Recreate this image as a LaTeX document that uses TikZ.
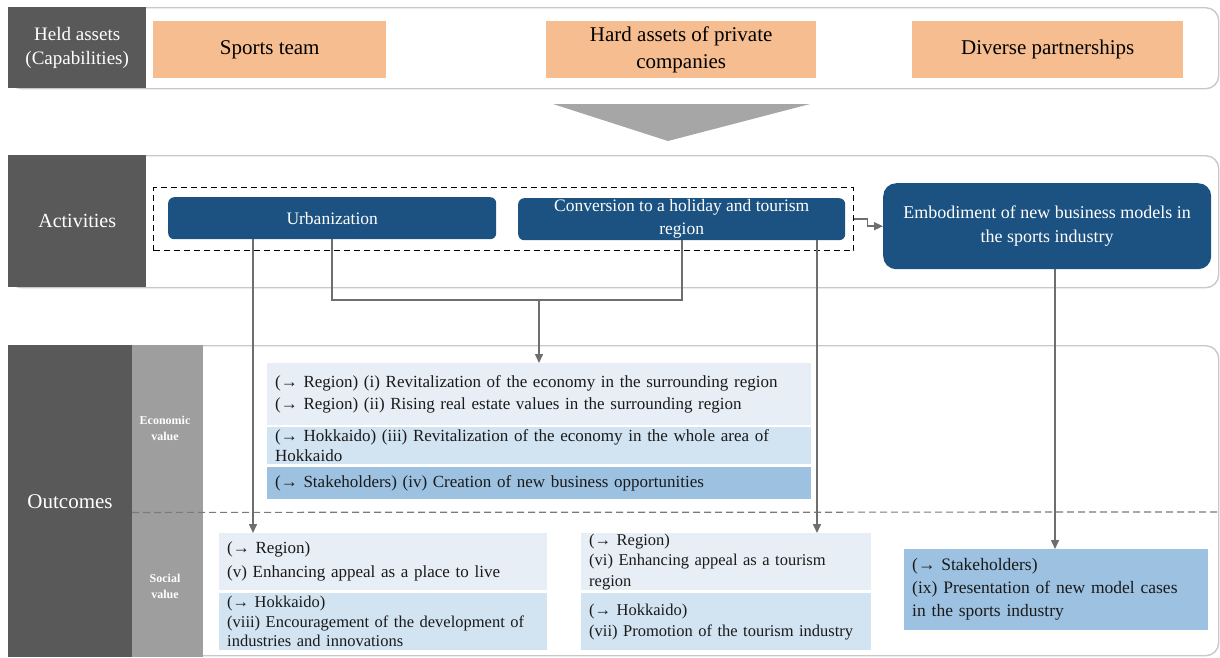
\documentclass[tikz,border=0pt]{standalone}
\usepackage{fontspec}
\setmainfont{LiberationSerif}[
  Extension=.ttf,
  UprightFont=*-Regular,
  BoldFont=*-Bold,
  ItalicFont=*-Italic,
  BoldItalicFont=*-BoldItalic]
\usetikzlibrary{arrows.meta}

\definecolor{labeldark}{HTML}{595959}
\definecolor{labelmid}{HTML}{9E9E9E}
\definecolor{assetfill}{HTML}{F5BD90}
\definecolor{actblue}{HTML}{1C5281}
\definecolor{paleblue}{HTML}{E8EEF6}
\definecolor{lightblue}{HTML}{D2E3F2}
\definecolor{midblue}{HTML}{9DC1E1}
\definecolor{framegray}{HTML}{C8C8C8}
\definecolor{linkgray}{HTML}{6E6E6E}
\definecolor{chevgray}{HTML}{A6A6A6}
\definecolor{bodytext}{HTML}{1A1A1A}

\tikzset{
  rowframe/.style={draw=framegray, line width=1.4pt, rounded corners=13pt, anchor=north west, inner sep=0pt},
  rowlabel/.style={fill=labeldark, text=white, anchor=north west, inner sep=0pt, align=center},
  sublabel/.style={fill=labelmid, text=white, anchor=north west, inner sep=0pt, align=center,
    font=\fontsize{12}{16}\selectfont\bfseries},
  asset/.style={fill=assetfill, anchor=north west, inner sep=0pt, align=center,
    minimum height=57pt, font=\fontsize{21}{27}\selectfont},
  activity/.style={fill=actblue, text=white, rounded corners=6pt, anchor=north west,
    inner sep=0pt, align=center, font=\fontsize{17.5}{23}\selectfont},
  outbox/.style={anchor=north west, inner xsep=8pt, inner ysep=0pt, align=left,
    text=bodytext, font=\fontsize{17}{20}\selectfont},
  link/.style={draw=linkgray, line width=1.5pt},
  linkarrow/.style={link, -{Triangle[length=9pt, width=8pt]}},
}

\begin{document}
\begin{tikzpicture}[x=1pt, y=-1pt]
\useasboundingbox (0,0) rectangle (1220,657);

% ---------- held assets row ----------
\node[rowframe, minimum width=1210pt, minimum height=81pt] (row1) at (8,7) {};
\node[rowlabel, minimum width=138pt, minimum height=81pt, font=\fontsize{19}{24}\selectfont]
  (heldlbl) at (8,7) {Held assets\\(Capabilities)};
\node[asset, minimum width=233pt] (team) at (153,21) {Sports team};
\node[asset, minimum width=270pt] (hard) at (546,21) {Hard assets of private\\companies};
\node[asset, minimum width=271pt] (partner) at (912,21) {Diverse partnerships};

% downward chevron between rows
\fill[chevgray] (553,104) -- (810,104) -- (668,141) -- cycle;

% ---------- activities row ----------
\node[rowframe, minimum width=1210pt, minimum height=132pt] (row2) at (8,155) {};
\node[rowlabel, minimum width=138pt, minimum height=132pt, font=\fontsize{20}{24}\selectfont]
  (actlbl) at (8,155) {Activities};
\node[draw, dashed, line width=1.3pt, dash pattern=on 6pt off 4pt, anchor=north west,
  inner sep=0pt, minimum width=700pt, minimum height=63pt] (group) at (153,187) {};
\node[activity, minimum width=328pt, minimum height=42pt] (urb) at (168,197) {Urbanization};
\node[activity, minimum width=327pt, minimum height=42pt] (conv) at (518,198)
  {Conversion to a holiday and tourism\\region};
\node[activity, rounded corners=13pt, minimum width=328pt, minimum height=86pt,
  font=\fontsize{18}{24}\selectfont] (emb) at (883,183)
  {Embodiment of new business models in\\the sports industry};

% ---------- outcomes row ----------
\node[rowframe, minimum width=1210pt, minimum height=310pt] (row3) at (8,345) {};
\node[rowlabel, minimum width=124pt, minimum height=312pt] (outlbl) at (8,345) {};
\node[text=white, font=\fontsize{21}{24}\selectfont] (outtxt) at (70,502) {Outcomes};
\node[sublabel, minimum width=71pt, minimum height=167pt] (econlbl) at (132,345) {};
\node[text=white, align=center, font=\fontsize{12}{16}\selectfont\bfseries] (econtxt) at (165,428) {Economic\\value};
\node[sublabel, minimum width=71pt, minimum height=145pt] (soclbl) at (132,512) {};
\node[text=white, align=center, font=\fontsize{12}{16}\selectfont\bfseries] (soctxt) at (165,586) {Social\\value};
\draw[labeldark!80, line width=1.2pt, dash pattern=on 7pt off 4pt] (econlbl.south west) -- (1218,512);

% economic value boxes
\node[outbox, fill=paleblue, minimum width=544pt, text width=528pt, minimum height=62pt,
  font=\fontsize{17}{22}\selectfont] (e1) at (267,363)
  {(→ Region) (i) Revitalization of the economy in the surrounding region\\
   (→ Region) (ii) Rising real estate values in the surrounding region};
\node[outbox, fill=lightblue, minimum width=544pt, text width=528pt, minimum height=37pt] (e2) at (267,427)
  {(→ Hokkaido) (iii) Revitalization of the economy in the whole area of\\Hokkaido};
\node[outbox, fill=midblue, minimum width=544pt, text width=528pt, minimum height=32pt] (e3) at (267,467)
  {(→ Stakeholders) (iv) Creation of new business opportunities};

% social value boxes
\node[outbox, fill=paleblue, minimum width=328pt, text width=312pt, minimum height=57pt,
  font=\fontsize{17}{24}\selectfont] (s5) at (219,533)
  {(→ Region)\\(v) Enhancing appeal as a place to live};
\node[outbox, fill=lightblue, minimum width=328pt, text width=312pt, minimum height=57pt,
  font=\fontsize{16.5}{19.5}\selectfont] (s8) at (219,593)
  {(→ Hokkaido)\\(viii) Encouragement of the development of\\industries and innovations};
\node[outbox, fill=paleblue, minimum width=290pt, text width=274pt, minimum height=57pt,
  font=\fontsize{16.5}{20.5}\selectfont] (s6) at (581,533)
  {(→ Region)\\(vi) Enhancing appeal as a tourism\\region};
\node[outbox, fill=lightblue, minimum width=290pt, text width=274pt, minimum height=57pt,
  font=\fontsize{16.5}{21}\selectfont] (s7) at (581,593)
  {(→ Hokkaido)\\(vii) Promotion of the tourism industry};
\node[outbox, fill=midblue, minimum width=304pt, text width=288pt, minimum height=81pt,
  font=\fontsize{17.5}{23}\selectfont] (s9) at (904,549)
  {(→ Stakeholders)\\(ix) Presentation of new model cases\\in the sports industry};

% ---------- connectors ----------
\draw[linkarrow] (group.east) -- ++(13,0) |- (emb.west);
\draw[linkarrow] ([xshift=85pt]urb.south west) -- ([xshift=34pt]s5.north west);
\coordinate (join) at (539,300);
\draw[link] ([xshift=164pt]urb.south west) |- (join) -| ([xshift=164pt]conv.south west);
\draw[linkarrow] (join) -- (join |- e1.north);
\draw[linkarrow] ([xshift=299pt]conv.south west) -- ([xshift=236pt]s6.north west);
\draw[linkarrow] ([xshift=172pt]emb.south west) -- ([xshift=151pt]s9.north west);
\end{tikzpicture}
\end{document}
